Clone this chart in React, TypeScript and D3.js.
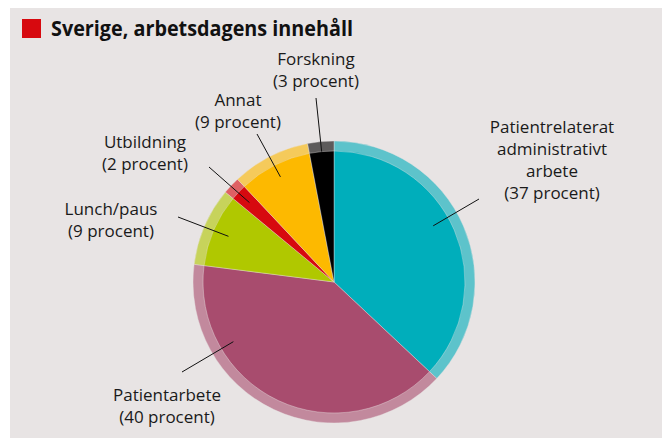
import React, { useEffect, useRef } from 'react';
import * as d3 from 'd3';

const categories = ['Patientrelaterat administrativt arbete', 'Patientarbete', 'Lunch/paus', 'Utbildning', 'Annat', 'Forskning'];
const values = [37, 40, 9, 2, 9, 3];
const labelLines = [
    ['Patientrelaterat', 'administrativt', 'arbete', '(37 procent)'],
    ['Patientarbete', '(40 procent)'],
    ['Lunch/paus', '(9 procent)'],
    ['Utbildning', '(2 procent)'],
    ['Annat', '(9 procent)'],
    ['Forskning', '(3 procent)'],
];
const colors = ['#00aebb', '#a84c6e', '#b0c800', '#d7090f', '#fdb900', '#000000'];

// label placement: text centre/first baseline, leader start, leader end as fraction of slice + radius
const labelLayout = [
    { x: 552, y: 133, sx: 479, sy: 199, t: 0.454, r: 114 },
    { x: 167, y: 401, sx: 182, sy: 372, t: 0.737, r: 117 },
    { x: 111, y: 215, sx: 178, sy: 217, t: 0.5, r: 115 },
    { x: 145, y: 148, sx: 209, sy: 167, t: 0.5, r: 116 },
    { x: 238, y: 106, sx: 257, sy: 134, t: 0.5, r: 118 },
    { x: 316, y: 65, sx: 316, sy: 98, t: 0.5, r: 131 },
];

const width = 662;
const height = 438;
const cx = 334;
const cy = 282;
const outerR = 141;
const innerR = 131;

const App = () => {
    const svgRef = useRef(null);

    useEffect(() => {
        document.body.style.margin = '0';
        const svg = d3.select(svgRef.current);
        svg.selectAll('*').remove();

        svg.append('rect')
            .attr('x', 10).attr('y', 8)
            .attr('width', width - 10).attr('height', height - 8)
            .attr('fill', '#e8e4e4');

        // title
        svg.append('rect')
            .attr('x', 22).attr('y', 19)
            .attr('width', 19).attr('height', 19)
            .attr('fill', '#d7090f');
        svg.append('text')
            .attr('x', 51).attr('y', 36)
            .attr('font-family', '"Open Sans", sans-serif')
            .attr('font-weight', 700)
            .attr('font-size', 21)
            .attr('textLength', 302)
            .attr('lengthAdjust', 'spacingAndGlyphs')
            .attr('fill', '#111')
            .text('Sverige, arbetsdagens innehåll');

        const pie = d3.pie<number>().sort(null).value(d => d);
        const arcs = pie(values);

        const g = svg.append('g').attr('transform', `translate(${cx},${cy})`);

        const outerArc = d3.arc<d3.PieArcDatum<number>>().innerRadius(0).outerRadius(outerR);
        const innerArc = d3.arc<d3.PieArcDatum<number>>().innerRadius(0).outerRadius(innerR);

        g.selectAll('path.ring')
            .data(arcs)
            .join('path')
            .attr('class', 'ring')
            .attr('d', outerArc)
            .attr('fill', (d, i) => colors[i])
            .attr('fill-opacity', 0.6)
            .attr('stroke', '#e8e4e4')
            .attr('stroke-width', 0.4);

        g.selectAll('path.core')
            .data(arcs)
            .join('path')
            .attr('class', 'core')
            .attr('d', innerArc)
            .attr('fill', (d, i) => colors[i])
            .attr('stroke', '#e8e4e4')
            .attr('stroke-width', 0.4);

        // labels and leader lines
        arcs.forEach((a, i) => {
            const L = labelLayout[i];
            const ang = a.startAngle + L.t * (a.endAngle - a.startAngle);
            const ex = cx + L.r * Math.sin(ang);
            const ey = cy - L.r * Math.cos(ang);
            svg.append('line')
                .attr('x1', L.sx).attr('y1', L.sy)
                .attr('x2', ex).attr('y2', ey)
                .attr('stroke', '#111')
                .attr('stroke-width', 1);

            const text = svg.append('text')
                .attr('x', L.x).attr('y', L.y)
                .attr('text-anchor', 'middle')
                .attr('font-family', '"Open Sans", sans-serif')
                .attr('font-size', 17)
                .attr('fill', '#1a1a1a');
            labelLines[i].forEach((line, j) => {
                text.append('tspan')
                    .attr('x', L.x)
                    .attr('y', L.y + j * 22)
                    .text(line);
            });
        });
    }, []);

    return <svg ref={svgRef} width={width} height={height} style={{ display: 'block' }} />;
};

export default App;
